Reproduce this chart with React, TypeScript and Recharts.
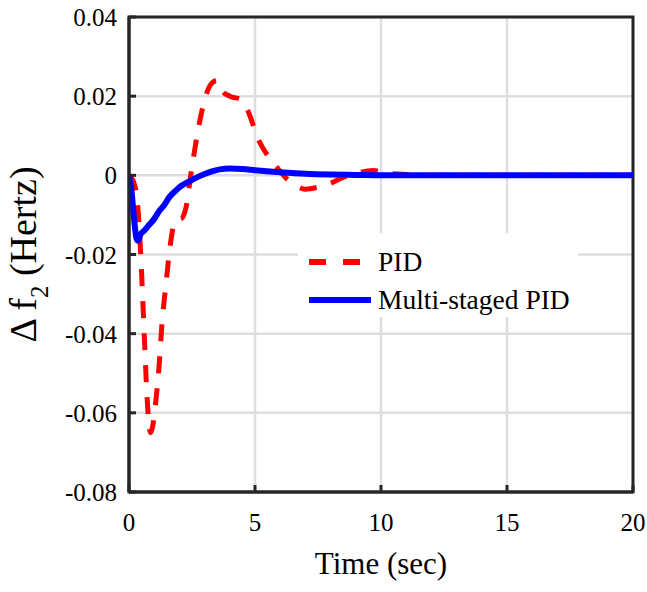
import {
  LineChart,
  Line,
  XAxis,
  YAxis,
  CartesianGrid,
  ReferenceArea,
  Legend,
} from "recharts";

// PID response (time in sec, Δf2 in Hz)
const pidTime = [
  0, 0.2, 0.35, 0.45, 0.55, 0.63, 0.7, 0.78, 0.85, 0.95, 1.03, 1.19, 1.31,
  1.47, 1.63, 1.8, 1.95, 2.05, 2.25, 2.45, 2.7, 3.0, 3.25, 3.5, 3.75, 4.0,
  4.5, 4.8, 5.1, 5.5, 5.9, 6.2, 6.5, 7.0, 7.5, 8.0, 8.5, 9.0, 9.7, 10.2, 11,
  12, 14, 16, 18, 20,
];
const pidDf = [
  0, -0.002, -0.008, -0.018, -0.032, -0.044, -0.054, -0.062, -0.065, -0.063,
  -0.059, -0.0485, -0.0374, -0.0273, -0.018, -0.012, -0.011, -0.011, -0.0085,
  0.0, 0.01, 0.019, 0.023, 0.024, 0.021, 0.02, 0.019, 0.015, 0.0096, 0.005,
  0.0018, -0.0005, -0.002, -0.0035, -0.003, -0.002, -0.0005, 0.0005, 0.0012,
  0.0006, 0.0002, 0, 0, 0, 0, 0,
];

// Multi-staged PID response
const mspidTime = [
  0, 0.1, 0.2, 0.3, 0.36, 0.45, 0.6, 0.8, 1.0, 1.2, 1.4, 1.6, 1.8, 2.0, 2.4,
  2.8, 3.2, 3.6, 4.0, 4.5, 5.0, 6.0, 7.0, 8.0, 9.0, 10, 12, 14, 16, 18, 20,
];
const mspidDf = [
  0, -0.004, -0.011, -0.016, -0.0165, -0.015, -0.014, -0.0125, -0.011, -0.009,
  -0.0075, -0.0055, -0.0042, -0.003, -0.0015, -0.0002, 0.0008, 0.0015, 0.0017,
  0.0016, 0.0013, 0.0008, 0.0004, 0.0002, 0.0001, 0, 0, 0, 0, 0, 0,
];

const xTicks = [0, 5, 10, 15, 20];
const yTicks = [-0.08, -0.06, -0.04, -0.02, 0, 0.02, 0.04];

const seriesNames = ["PID", "Multi-staged PID"];
const seriesColors = ["#ff0000", "#0000ff"];
const seriesDash = ["17 15", undefined];

const pidData = pidTime.map((t, i) => ({ t, df: pidDf[i] }));
const mspidData = mspidTime.map((t, i) => ({ t, df: mspidDf[i] }));

const FONT = "Liberation Serif";
const AXIS = "#262626";

// inward tick mark + serif label
const xTick = (props: any) => {
  const { x, y, payload } = props;
  return (
    <g>
      <line x1={x} x2={x} y1={y} y2={y - 7} stroke={AXIS} strokeWidth={3} />
      <text x={x} y={y + 39} textAnchor="middle" fill="#000" fontFamily={FONT} fontSize={25}>
        {String(payload.value)}
      </text>
    </g>
  );
};

const yTick = (props: any) => {
  const { x, y, payload } = props;
  return (
    <g>
      <line x1={x} x2={x + 7} y1={y} y2={y} stroke={AXIS} strokeWidth={3} />
      <text x={x - 12} y={y + 9} textAnchor="end" fill="#000" fontFamily={FONT} fontSize={25}>
        {String(payload.value)}
      </text>
    </g>
  );
};

const LegendBox = () => (
  <div style={{ background: "#fff", width: 280, height: 84, position: "relative", fontFamily: FONT }}>
    {seriesNames.map((name, i) => (
      <div
        key={name}
        style={{
          position: "absolute",
          left: 11,
          top: 10 + i * 38,
          height: 38,
          display: "flex",
          alignItems: "center",
          whiteSpace: "nowrap",
        }}
      >
        <svg width={62} height={10} style={{ display: "block" }}>
          <line
            x1={0}
            y1={5}
            x2={62}
            y2={5}
            stroke={seriesColors[i]}
            strokeWidth={6}
            strokeDasharray={seriesDash[i] ? "17 17" : undefined}
          />
        </svg>
        <span style={{ marginLeft: 7, fontSize: 27.5, color: "#000", lineHeight: "38px" }}>{name}</span>
      </div>
    ))}
  </div>
);

export default function App() {
  return (
    <div style={{ position: "absolute", left: 0, top: 0, background: "#fff", fontFamily: FONT }}>
      <LineChart width={647} height={592} margin={{ top: 17, right: 14, bottom: 40, left: 0 }}>
        <CartesianGrid stroke="#dedede" strokeWidth={2.5} />
        <XAxis
          dataKey="t"
          type="number"
          domain={[0, 20]}
          ticks={xTicks}
          allowDataOverflow
          height={60}
          tickSize={0}
          tickMargin={0}
          tickLine={false}
          tick={xTick}
          axisLine={{ stroke: AXIS, strokeWidth: 3 }}
          label={{
            content: ({ viewBox }: any) => (
              <text
                x={viewBox.x + viewBox.width / 2}
                y={574}
                textAnchor="middle"
                fontFamily={FONT}
                fontSize={31}
                fill="#000"
              >
                Time (sec)
              </text>
            ),
          }}
        />
        <YAxis
          type="number"
          domain={[-0.08, 0.04]}
          ticks={yTicks}
          allowDataOverflow
          width={129}
          tickSize={0}
          tickMargin={0}
          tickLine={false}
          tick={yTick}
          axisLine={{ stroke: AXIS, strokeWidth: 3 }}
          label={{
            content: ({ viewBox }: any) => {
              const cy = viewBox.y + viewBox.height / 2;
              return (
                <text
                  transform={`translate(36 ${cy}) rotate(-90)`}
                  textAnchor="middle"
                  fontFamily={FONT}
                  fontSize={38}
                  fill="#000"
                >
                  {"Δ  f"}
                  <tspan dy={12} fontSize={25}>2</tspan>
                  <tspan dy={-12}>{"  (Hertz)"}</tspan>
                </text>
              );
            },
          }}
        />
        <ReferenceArea x1={0} x2={20} y1={-0.08} y2={0.04} fill="none" stroke={AXIS} strokeWidth={3} />
        <Line
          data={pidData}
          dataKey="df"
          name={seriesNames[0]}
          type="monotone"
          stroke={seriesColors[0]}
          strokeWidth={5}
          strokeDasharray={seriesDash[0]}
          dot={false}
          isAnimationActive={false}
        />
        <Line
          data={mspidData}
          dataKey="df"
          name={seriesNames[1]}
          type="monotone"
          stroke={seriesColors[1]}
          strokeWidth={6}
          dot={false}
          isAnimationActive={false}
        />
        <Legend
          layout="vertical"
          align="center"
          verticalAlign="middle"
          wrapperStyle={{ left: 298, top: 233, width: 280, height: 84 }}
          content={<LegendBox />}
        />
      </LineChart>
    </div>
  );
}
